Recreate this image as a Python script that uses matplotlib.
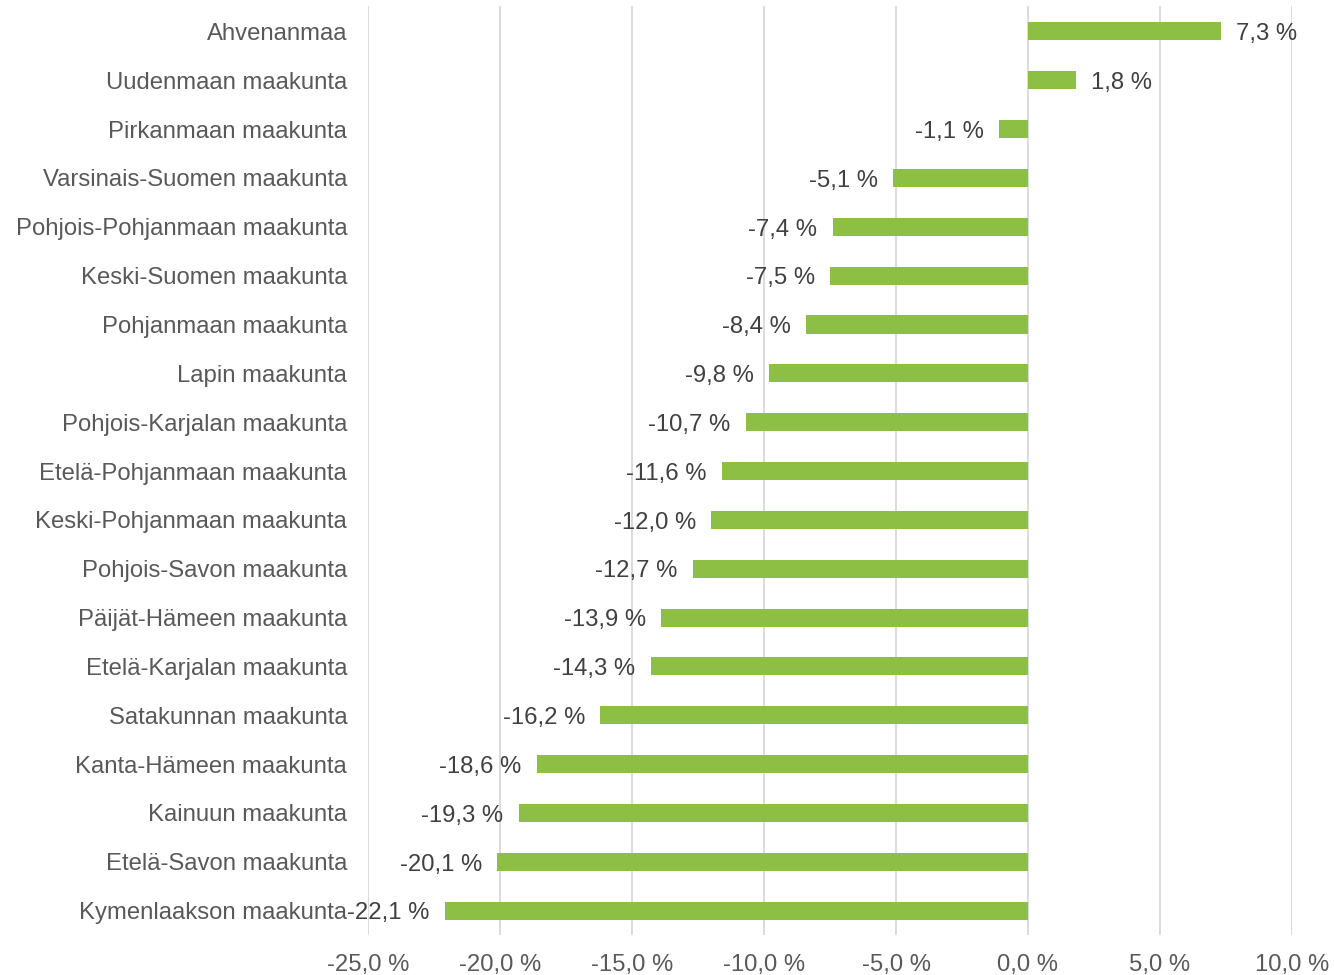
import matplotlib
matplotlib.use("Agg")
import matplotlib.pyplot as plt
from matplotlib.ticker import FuncFormatter

plt.rcParams['font.family'] = ['Liberation Sans', 'DejaVu Sans']

# Maakunnat ja muutos (%)
maakunnat = ['Ahvenanmaa', 'Uudenmaan maakunta', 'Pirkanmaan maakunta',
             'Varsinais-Suomen maakunta', 'Pohjois-Pohjanmaan maakunta',
             'Keski-Suomen maakunta', 'Pohjanmaan maakunta', 'Lapin maakunta',
             'Pohjois-Karjalan maakunta', 'Etelä-Pohjanmaan maakunta',
             'Keski-Pohjanmaan maakunta', 'Pohjois-Savon maakunta',
             'Päijät-Hämeen maakunta', 'Etelä-Karjalan maakunta',
             'Satakunnan maakunta', 'Kanta-Hämeen maakunta', 'Kainuun maakunta',
             'Etelä-Savon maakunta', 'Kymenlaakson maakunta']
muutos = [7.3, 1.8, -1.1, -5.1, -7.4, -7.5, -8.4, -9.8, -10.7, -11.6,
          -12.0, -12.7, -13.9, -14.3, -16.2, -18.6, -19.3, -20.1, -22.1]
xticks = [-25, -20, -15, -10, -5, 0, 5, 10]

def fi(v):
    return f"{v:.1f}".replace('.', ',') + " %"

fig = plt.figure(figsize=(13.34, 9.75), dpi=100)
ax = fig.add_axes([0.2759, 0.041, 0.6926, 0.9528])

y = list(range(len(maakunnat)))
ax.barh(y, muutos, height=0.37, color='#8CBF43', zorder=3)

fs = 17.2
for yi, v in zip(y, muutos):
    if v >= 0:
        ax.annotate(fi(v), (v, yi), xytext=(11, -2), textcoords='offset points',
                    ha='left', va='center', fontsize=fs, color='#404040')
    else:
        ax.annotate(fi(v), (v, yi), xytext=(-11, -2), textcoords='offset points',
                    ha='right', va='center', fontsize=fs, color='#404040')

ax.set_xlim(-25, 10)
ax.set_ylim(len(maakunnat) - 0.5, -0.52)
ax.set_xticks(xticks)
ax.xaxis.set_major_formatter(FuncFormatter(lambda v, p: fi(v)))
ax.set_yticks(y)
ax.set_yticklabels(maakunnat)
ax.tick_params(axis='both', length=0, labelsize=fs, labelcolor='#595959')
ax.tick_params(axis='y', pad=15)
ax.tick_params(axis='x', pad=14)
ax.grid(axis='x', color='#D9D9D9', linewidth=1.3, zorder=0)
for s in ax.spines.values():
    s.set_visible(False)

fig.savefig('out.png', dpi=100)
